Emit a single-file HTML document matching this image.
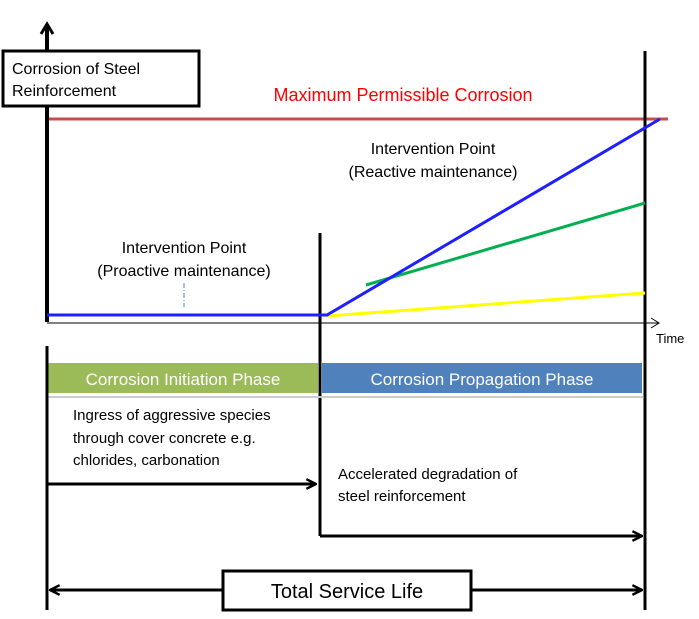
<!DOCTYPE html>
<html><head><meta charset="utf-8"><style>
html,body{margin:0;padding:0;background:#fff;width:699px;height:619px;overflow:hidden}
svg{display:block}
text{font-family:"Liberation Sans",sans-serif}
</style></head><body>
<svg width="699" height="619" viewBox="0 0 699 619" xmlns="http://www.w3.org/2000/svg">
<defs>
<marker id="a" viewBox="0 0 10 10" refX="9" refY="5" markerWidth="4" markerHeight="4" orient="auto-start-reverse" markerUnits="strokeWidth"><path d="M1,1 L9,5 L1,9" fill="none" stroke="#000" stroke-width="2"/></marker>
</defs>
<line x1="47" y1="322" x2="47" y2="26" stroke="#000" stroke-width="4"/>
<path d="M41,34 L47,24 L53,34" fill="none" stroke="#000" stroke-width="3"/>
<rect x="3" y="51" width="196" height="55" fill="#fff" stroke="#000" stroke-width="3"/>
<text x="12" y="74" font-size="16">Corrosion of Steel</text>
<text x="12" y="96" font-size="16">Reinforcement</text>
<line x1="49" y1="119" x2="668" y2="119" stroke="#c0504d" stroke-width="3"/>
<text x="403" y="101" font-size="18" fill="#ff0000" text-anchor="middle">Maximum Permissible  Corrosion</text>
<line x1="645" y1="51" x2="645" y2="610" stroke="#000" stroke-width="3"/>
<line x1="320" y1="233" x2="320" y2="536" stroke="#000" stroke-width="3"/>
<line x1="47" y1="323" x2="658" y2="323" stroke="#000" stroke-width="1"/>
<path d="M651,318 L659,323 L651,328" fill="none" stroke="#000" stroke-width="1"/>
<text x="656" y="343" font-size="13">Time</text>
<line x1="366" y1="285" x2="645" y2="203" stroke="#00b050" stroke-width="3"/>
<line x1="327" y1="316" x2="645" y2="293" stroke="#ffff00" stroke-width="3"/>
<polyline points="47,315 327,315 660,119" fill="none" stroke="#1f1fff" stroke-width="3"/>
<line x1="184" y1="283" x2="184" y2="307" stroke="#4f81bd" stroke-width="1" stroke-dasharray="5,2,1,2"/>
<text x="184" y="253" font-size="16" text-anchor="middle">Intervention Point</text>
<text x="184" y="276" font-size="16" text-anchor="middle">(Proactive maintenance)</text>
<text x="433" y="154" font-size="16" text-anchor="middle">Intervention Point</text>
<text x="433" y="177" font-size="16" text-anchor="middle">(Reactive maintenance)</text>
<line x1="47" y1="397" x2="643" y2="397" stroke="#ccc" stroke-width="2"/>
<rect x="48" y="363" width="270" height="30" fill="#9bbb59"/>
<rect x="322" y="363" width="320" height="30" fill="#4f81bd"/>
<text x="183" y="385" font-size="17" fill="#fff" text-anchor="middle">Corrosion Initiation Phase</text>
<text x="482" y="385" font-size="17" fill="#fff" text-anchor="middle">Corrosion Propagation Phase</text>
<line x1="47" y1="346" x2="47" y2="610" stroke="#000" stroke-width="3"/>
<text x="73" y="420" font-size="15">Ingress of aggressive species</text>
<text x="73" y="443" font-size="15">through cover  concrete e.g.</text>
<text x="73" y="465" font-size="15">chlorides, carbonation</text>
<line x1="47" y1="484" x2="316" y2="484" stroke="#000" stroke-width="3" marker-end="url(#a)"/>
<text x="338" y="479" font-size="15">Accelerated degradation of</text>
<text x="338" y="501" font-size="15">steel reinforcement</text>
<line x1="320" y1="536" x2="642" y2="536" stroke="#000" stroke-width="3" marker-end="url(#a)"/>
<line x1="50" y1="590" x2="642" y2="590" stroke="#000" stroke-width="3" marker-start="url(#a)" marker-end="url(#a)"/>
<rect x="223" y="571" width="248" height="39" fill="#fff" stroke="#000" stroke-width="3"/>
<text x="347" y="598" font-size="20" text-anchor="middle">Total Service Life</text>
</svg>
</body></html>
